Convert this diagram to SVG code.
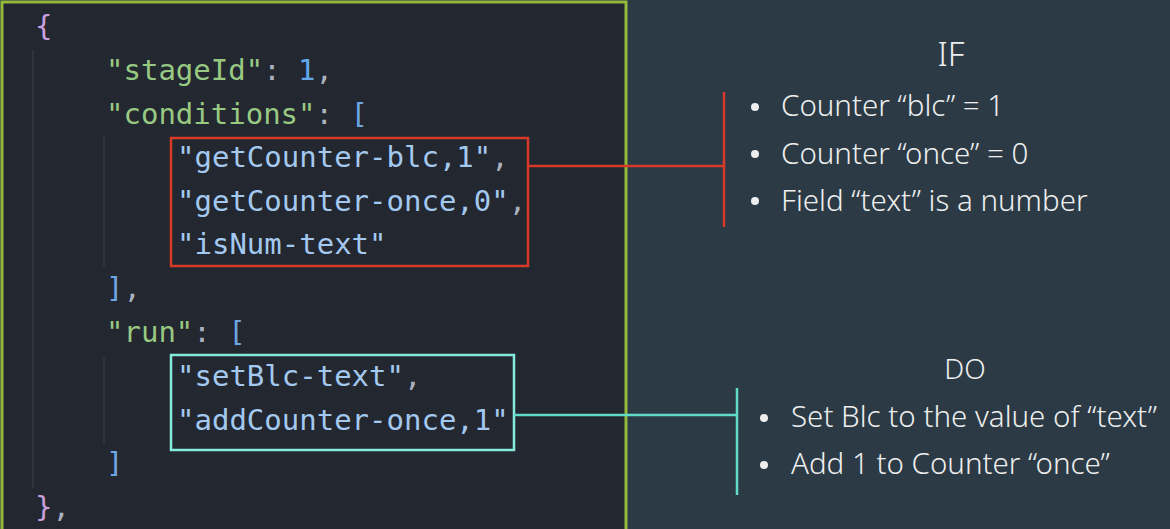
<svg xmlns="http://www.w3.org/2000/svg" width="1170" height="529" viewBox="0 0 1170 529">
<style>
.code{font-family:"DejaVu Sans Mono","Liberation Mono",monospace;font-size:29px;}
.k{fill:#98c983}.s{fill:#a3c9f0}.n{fill:#62a8ea}.p{fill:#abb2bf}.b{fill:#6ea6e2}.c{fill:#c9a0de}
.lbl{font-family:"Noto Sans","Open Sans",sans-serif;font-weight:300;fill:#eeeeee}
.item{font-size:29.5px}
.guide{stroke:#3a404a;stroke-width:1}
</style>
<rect x="0" y="0" width="1170" height="529" fill="#2b3a45"/>
<g id="code-panel">
<rect x="2" y="2" width="624" height="540" fill="#23272f" stroke="#93b83c" stroke-width="3"/>
<line class="guide" x1="33" y1="50" x2="33" y2="488"/>
<line class="guide" x1="104" y1="137" x2="104" y2="267"/>
<line class="guide" x1="104" y1="357" x2="104" y2="445"/>
<g class="code">
<text x="35" y="36" class="c">{</text>
<text x="106" y="80"><tspan class="k">"stageId"</tspan><tspan class="p">: </tspan><tspan class="n">1</tspan><tspan class="p">,</tspan></text>
<text x="106" y="124"><tspan class="k">"conditions"</tspan><tspan class="p">: </tspan><tspan class="b">[</tspan></text>
<text x="177" y="167"><tspan class="s">"getCounter-blc,1"</tspan><tspan class="p">,</tspan></text>
<text x="177" y="211"><tspan class="s">"getCounter-once,0"</tspan><tspan class="p">,</tspan></text>
<text x="177" y="254"><tspan class="s">"isNum-text"</tspan></text>
<text x="106" y="298"><tspan class="b">]</tspan><tspan class="p">,</tspan></text>
<text x="106" y="342"><tspan class="k">"run"</tspan><tspan class="p">: </tspan><tspan class="b">[</tspan></text>
<text x="177" y="386"><tspan class="s">"setBlc-text"</tspan><tspan class="p">,</tspan></text>
<text x="177" y="430"><tspan class="s">"addCounter-once,1"</tspan></text>
<text x="106" y="473" class="b">]</text>
<text x="35" y="517"><tspan class="c">}</tspan><tspan class="p">,</tspan></text>
</g>
</g>
<g id="conditions-box">
<rect x="171" y="138" width="357" height="128" fill="none" stroke="#d83a2a" stroke-width="2.5"/>
</g>
<g id="run-box">
<rect x="171" y="355" width="343" height="95" fill="none" stroke="#84ecdc" stroke-width="2.5"/>
</g>
<g id="connectors">
<path d="M528 166 H724 M724 92 V227" fill="none" stroke="#d83a2a" stroke-width="2.5"/>
<path d="M514 415 H737 M737 388 V495" fill="none" stroke="#5fdcc8" stroke-width="2.5"/>
</g>
<g id="if-label">
<text class="lbl" x="951" y="66" font-size="33" text-anchor="middle">IF</text>
<circle cx="755" cy="107" r="4" fill="#eeeeee"/>
<circle cx="755" cy="154" r="4" fill="#eeeeee"/>
<circle cx="755" cy="201" r="4" fill="#eeeeee"/>
<text class="lbl item" x="781" y="116">Counter “blc” = 1</text>
<text class="lbl item" x="781" y="164">Counter “once” = 0</text>
<text class="lbl item" x="781" y="211">Field “text” is a number</text>
</g>
<g id="do-label">
<text class="lbl" x="965" y="379" font-size="28" text-anchor="middle">DO</text>
<circle cx="764" cy="418" r="4" fill="#eeeeee"/>
<circle cx="764" cy="465" r="4" fill="#eeeeee"/>
<text class="lbl item" x="791" y="427">Set Blc to the value of “text”</text>
<text class="lbl item" x="791" y="474">Add 1 to Counter “once”</text>
</g>
</svg>
